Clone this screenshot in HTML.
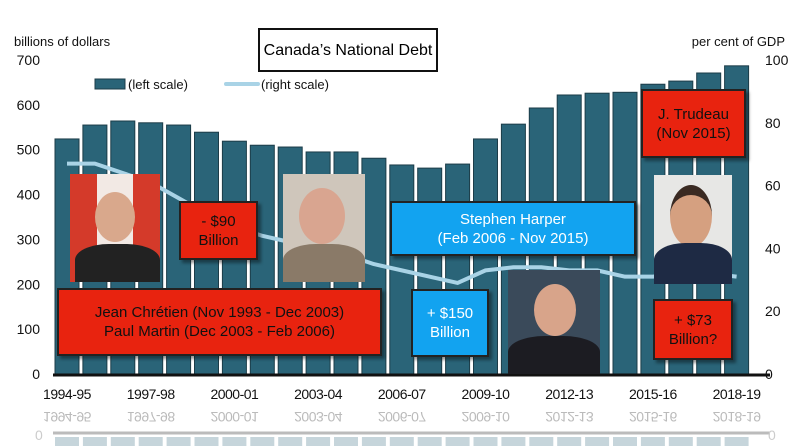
<!DOCTYPE html>
<html><head><meta charset="utf-8"><style>
body{margin:0;background:#fff;}
#c{position:relative;width:800px;height:446px;overflow:hidden;font-family:"Liberation Sans",sans-serif;}
.box{position:absolute;display:flex;align-items:center;justify-content:center;text-align:center;font-size:15px;line-height:19px;box-sizing:border-box;}
.red{background:#e8230f;color:#111;border:2px solid #222;box-shadow:3px 3px 3px rgba(0,0,0,.4);}
.blue{background:#12a3f0;color:#fff;border:2px solid #222;box-shadow:3px 3px 3px rgba(0,0,0,.4);}
.photo{position:absolute;overflow:hidden;}
</style></head><body>
<div id="c">
<svg id="s" width="800" height="446" style="position:absolute;left:0;top:0"></svg>
<div class="box" style="left:258px;top:28px;width:180px;height:44px;border:2px solid #111;background:#fff;font-size:16px;white-space:nowrap">Canada’s National Debt</div>
<div class="photo" style="left:70px;top:174px;width:90px;height:108px;background:linear-gradient(90deg,#d43a2a 0 30%,#f2e9e4 30% 70%,#d43a2a 70%)"><div style="position:absolute;left:25px;top:18px;width:40px;height:50px;border-radius:50%;background:#d9a88c"></div><div style="position:absolute;left:5px;top:70px;width:85px;height:40px;border-radius:40% 40% 0 0;background:#222"></div></div>
<div class="box red" style="left:179px;top:201px;width:79px;height:59px">- $90<br>Billion</div>
<div class="photo" style="left:283px;top:174px;width:82px;height:108px;background:#cfc6bb"><div style="position:absolute;left:16px;top:14px;width:46px;height:56px;border-radius:50%;background:#d9a590"></div><div style="position:absolute;left:0;top:70px;width:82px;height:40px;border-radius:40% 40% 0 0;background:#8a7a68"></div></div>
<div class="box red" style="left:57px;top:288px;width:325px;height:68px">Jean Chrétien (Nov 1993 - Dec 2003)<br>Paul Martin (Dec 2003 - Feb 2006)</div>
<div class="box blue" style="left:390px;top:201px;width:246px;height:55px">Stephen Harper<br>(Feb 2006 - Nov 2015)</div>
<div class="box blue" style="left:411px;top:289px;width:78px;height:68px">+ $150<br>Billion</div>
<div class="photo" style="left:508px;top:270px;width:92px;height:104px;background:#3a4a5a"><div style="position:absolute;left:26px;top:14px;width:42px;height:52px;border-radius:50%;background:#d8a48a"></div><div style="position:absolute;left:0;top:66px;width:92px;height:40px;border-radius:40% 40% 0 0;background:#1c1c22"></div></div>
<div class="box red" style="left:641px;top:89px;width:105px;height:69px">J. Trudeau<br>(Nov 2015)</div>
<div class="photo" style="left:654px;top:175px;width:78px;height:109px;background:#e7e7e5"><div style="position:absolute;left:16px;top:10px;width:42px;height:52px;border-radius:50%;background:#d5a080;border-top:10px solid #3a2a22"></div><div style="position:absolute;left:0;top:68px;width:78px;height:42px;border-radius:40% 40% 0 0;background:#1e2a44"></div></div>
<div class="box red" style="left:653px;top:299px;width:80px;height:61px">+ $73<br>Billion?</div>
</div>
<script>
const categories=["1994-95","1995-96","1996-97","1997-98","1998-99","1999-00","2000-01","2001-02","2002-03","2003-04","2004-05","2005-06","2006-07","2007-08","2008-09","2009-10","2010-11","2011-12","2012-13","2013-14","2014-15","2015-16","2016-17","2017-18","2018-19"];
const debtValues=[524,555,564,560,555,539,519,510,506,495,495,481,466,459,468,524,557,593,622,626,628,646,653,671,687];
const gdpPercent=[67,67,64,61,56,51,47,44,42,40,38,35,33,31,29,33,34,34,33,33,31,31,32,32,31];
const leftTicks=[0,100,200,300,400,500,600,700];
const rightTicks=[0,20,40,60,80,100];
const xLabelIdx=[0,3,6,9,12,15,18,21,24];
const NS="http://www.w3.org/2000/svg",svg=document.getElementById('s');
const y0=374,yTop=60,x0=55,pitch=27.9,bw=24;
const yL=v=>y0-(v/700)*(y0-yTop), yR=v=>y0-(v/100)*(y0-yTop), xB=i=>x0+i*pitch;
function mk(t,a,txt){const e=document.createElementNS(NS,t);for(const k in a)e.setAttribute(k,a[k]);if(txt!=null)e.textContent=txt;svg.appendChild(e);return e;}
const f='font-family:"Liberation Sans",sans-serif';
let e=mk('text',{x:14,y:46,'font-size':13,fill:'#111',style:f},'billions of dollars');

e=mk('text',{x:785,y:46,'font-size':13,fill:'#111','text-anchor':'end',style:f},'per cent of GDP');

leftTicks.forEach(v=>{const t=mk('text',{x:40,y:yL(v)+5,'font-size':14,fill:'#111','text-anchor':'end',style:f},v);
});
rightTicks.forEach(v=>{const t=mk('text',{x:765,y:yR(v)+5,'font-size':14,fill:'#111',style:f},v);
});
debtValues.forEach((v,i)=>{const r=mk('rect',{x:xB(i),y:yL(v),width:bw,height:y0-yL(v),fill:'#2a6478',stroke:'#1c3c48','stroke-width':1});

const g=mk('rect',{x:xB(i),y:437,width:bw,height:12,fill:'#c6d5db'});
});
const pts=gdpPercent.map((v,i)=>(xB(i)+bw/2)+','+yR(v)).join(' ');
e=mk('polyline',{points:pts,fill:'none',stroke:'#a9d3e6','stroke-width':4,'stroke-linejoin':'round'});

e=mk('line',{x1:53,x2:770,y1:y0+1,y2:y0+1,stroke:'#111','stroke-width':3});

e=mk('line',{x1:53,x2:770,y1:433,y2:433,stroke:'#bbb','stroke-width':3});

[['0',35,440],['0',768,440]].forEach(a=>{const t=mk('text',{x:a[1],y:a[2],'font-size':14,fill:'#ccc',style:f},a[0]);});
xLabelIdx.forEach(i=>{const cx=xB(i)+bw/2;
const t=mk('text',{x:cx,y:399,'font-size':14,fill:'#111','text-anchor':'middle',style:f+';letter-spacing:-0.5px'},categories[i]);

const m=mk('text',{x:cx,y:-412,'font-size':14,fill:'#bbb','text-anchor':'middle',transform:'scale(1,-1)',style:f+';letter-spacing:-0.5px'},categories[i]);
});
e=mk('rect',{x:95,y:79,width:30,height:10,fill:'#2a6478',stroke:'#1c3c48'});

e=mk('text',{x:128,y:89,'font-size':13,fill:'#111',style:f},'(left scale)');

e=mk('line',{x1:226,x2:258,y1:84,y2:84,stroke:'#a9d3e6','stroke-width':4,'stroke-linecap':'round'});

e=mk('text',{x:261,y:89,'font-size':13,fill:'#111',style:f},'(right scale)');

</script>
</body></html>
